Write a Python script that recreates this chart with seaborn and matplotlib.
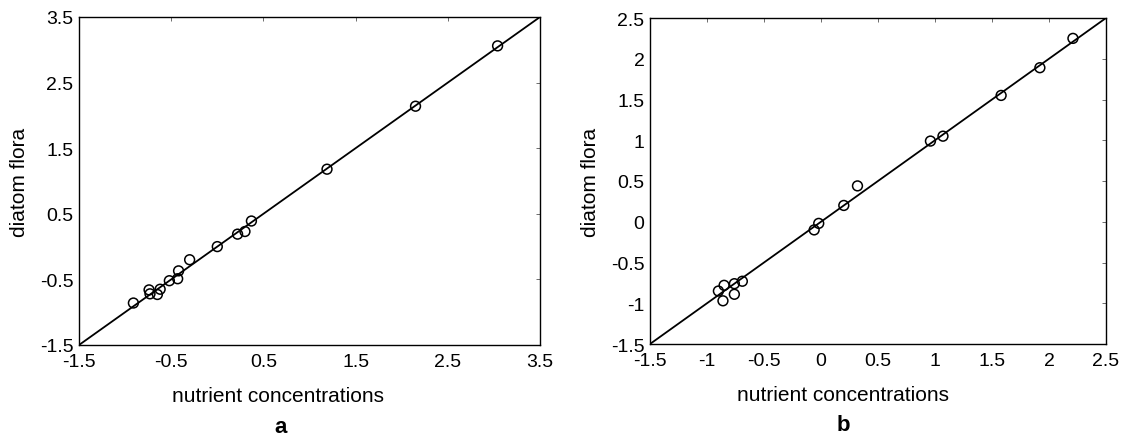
import matplotlib
matplotlib.use("Agg")
import matplotlib.pyplot as plt
import seaborn as sns
import pandas as pd

# ---- data ----
a_x = [3.04, 2.15, 1.19, 0.37, 0.30, 0.22, 0.00, -0.30, -0.42, -0.43, -0.52,
       -0.62, -0.65, -0.74, -0.73, -0.91]
a_y = [3.06, 2.14, 1.18, 0.39, 0.23, 0.19, 0.00, -0.20, -0.37, -0.49, -0.52,
       -0.65, -0.73, -0.66, -0.72, -0.86]
a_line = [-1.5, 3.5]
a_ticks = [-1.5, -0.5, 0.5, 1.5, 2.5, 3.5]

b_x = [2.21, 1.92, 1.58, 1.07, 0.96, 0.32, 0.20, -0.02, -0.06, -0.69, -0.76,
       -0.76, -0.85, -0.90, -0.86]
b_y = [2.25, 1.89, 1.55, 1.05, 0.99, 0.44, 0.20, -0.02, -0.10, -0.73, -0.76,
       -0.89, -0.78, -0.85, -0.97]
b_line = [-1.5, 2.5]
b_ticks = [-1.5, -1, -0.5, 0, 0.5, 1, 1.5, 2, 2.5]
b_ticklabels = ["-1.5", "-1", "-0.5", "0", "0.5", "1", "1.5", "2", "2.5"]

xlabel = "nutrient concentrations"
ylabel = "diatom flora"
panel_labels = ["a", "b"]

sns.set_theme(style="white", rc={"text.color": "black",
                                 "axes.labelcolor": "black",
                                 "xtick.color": "black",
                                 "ytick.color": "black"})
plt.rcParams["font.family"] = ["Liberation Sans", "DejaVu Sans"]

fig = plt.figure(figsize=(11.21, 4.39), dpi=100)
ax1 = fig.add_axes([79 / 1121, 1 - 346 / 439, 461 / 1121, 328 / 439])
ax2 = fig.add_axes([650 / 1121, 1 - 345 / 439, 456 / 1121, 326 / 439])


def draw(ax, xs, ys, line, ticks, ticklabels, xlab_pos):
    sns.lineplot(x=line, y=line, ax=ax, color="black", linewidth=1.3)
    df = pd.DataFrame({"x": xs, "y": ys})
    sns.scatterplot(data=df, x="x", y="y", ax=ax, marker="o", s=50,
                    facecolor="none", edgecolor="black", linewidth=1.1,
                    zorder=3)
    ax.set_xlim(line[0], line[1])
    ax.set_ylim(line[0], line[1])
    ax.set_xticks(ticks)
    ax.set_yticks(ticks)
    ax.set_xticklabels(ticklabels, fontsize=14)
    ax.set_yticklabels(ticklabels, fontsize=14)
    ax.tick_params(direction="in", length=3, width=0.6, color="#555555",
                   labelcolor="black", top=True, right=True)
    ax.tick_params(axis="x", pad=6)
    ax.tick_params(axis="y", pad=4)
    for s in ax.spines.values():
        s.set_color("black")
        s.set_linewidth(1.0)
        s.set_visible(True)
    ax.set_xlabel(xlabel, fontsize=15, color="black")
    ax.set_ylabel(ylabel, fontsize=15, labelpad=8, color="black")
    ax.xaxis.set_label_coords(xlab_pos, -0.125)


draw(ax1, a_x, a_y, a_line, a_ticks, [str(t) for t in a_ticks], 0.432)
draw(ax2, b_x, b_y, b_line, b_ticks, b_ticklabels, 0.423)

fig.text(281 / 1121, 1 - 428 / 439, panel_labels[0], ha="center", va="center",
         fontsize=16, fontweight="bold", color="black")
fig.text(843 / 1121, 1 - 426 / 439, panel_labels[1], ha="center", va="center",
         fontsize=16, fontweight="bold", color="black")

fig.savefig("out.png", dpi=100, facecolor="white")
